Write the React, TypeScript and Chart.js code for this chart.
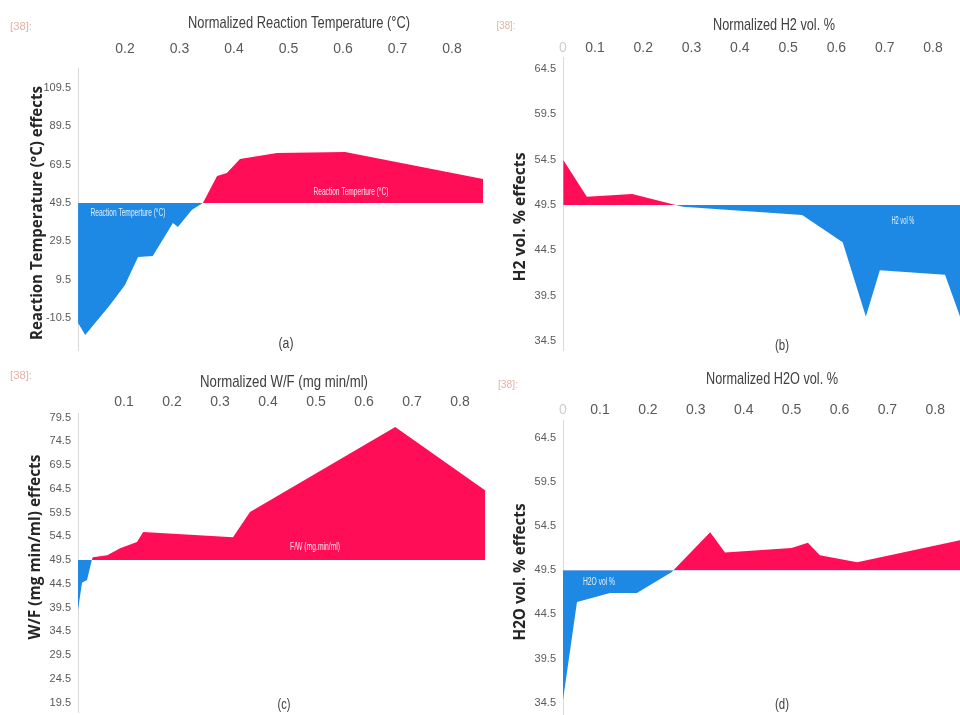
import React, { useEffect, useRef } from "react";
import { Chart, registerables } from "chart.js";

Chart.register(...registerables);

// ---------------- data ----------------
const BASE = 49.5;

// (a) Reaction Temperature
const tempX = [0.114, 0.127, 0.1725, 0.2, 0.224, 0.251, 0.288, 0.297, 0.323, 0.343, 0.369, 0.387, 0.411, 0.479, 0.604, 0.857];
const tempEffect = [-13, -19.3, -3.6, 6.8, 21.4, 21.9, 39.1, 37, 45.9, 49.5, 63.6, 65.1, 72.4, 75.5, 76, 62];
const tempXTicks = [0.2, 0.3, 0.4, 0.5, 0.6, 0.7, 0.8];
const tempYTicks = [109.5, 89.5, 69.5, 49.5, 29.5, 9.5, -10.5];

// (b) H2 vol. %
const h2X = [0.034, 0.083, 0.177, 0.282, 0.529, 0.613, 0.661, 0.69, 0.825, 0.856];
const h2Effect = [54.5, 50.4, 50.7, 49.3, 48.4, 45.4, 37.2, 42.3, 41.8, 37.2];
const h2XTicks = [0.1, 0.2, 0.3, 0.4, 0.5, 0.6, 0.7, 0.8];
const h2YTicks = [64.5, 59.5, 54.5, 49.5, 44.5, 39.5, 34.5];

// (c) W/F
const wfX = [0.0042, 0.0125, 0.023, 0.033, 0.035, 0.065, 0.092, 0.127, 0.14, 0.327, 0.3625, 0.665, 0.852];
const wfEffect = [39.0, 44.7, 45.3, 49.5, 50.1, 50.5, 52.0, 53.3, 55.4, 54.3, 59.6, 77.5, 64.2];
const wfXTicks = [0.1, 0.2, 0.3, 0.4, 0.5, 0.6, 0.7, 0.8];
const wfYTicks = [79.5, 74.5, 69.5, 64.5, 59.5, 54.5, 49.5, 44.5, 39.5, 34.5, 29.5, 24.5, 19.5];

// (d) H2O vol. %
const h2oX = [0.0228, 0.052, 0.121, 0.177, 0.25, 0.33, 0.361, 0.5, 0.534, 0.559, 0.637, 0.852];
const h2oEffect = [34.8, 45.9, 46.9, 46.9, 49.3, 53.8, 51.5, 52.0, 52.6, 51.2, 50.4, 52.9];
const h2oXTicks = [0.1, 0.2, 0.3, 0.4, 0.5, 0.6, 0.7, 0.8];
const h2oYTicks = [64.5, 59.5, 54.5, 49.5, 44.5, 39.5, 34.5];

// ---------------- styles ----------------
const RED = "#ff0d57";
const BLUE = "#1e88e5";
const TICK_FONT = "'Liberation Sans Narrow', 'Liberation Sans', sans-serif";

type Label = { x: number; y: number; text: string; w: number };
type PanelCfg = {
  xs: number[];
  ys: number[];
  xTicks: number[];
  yTicks: number[];
  zeroLabel: boolean;
  xMin: number;
  xMax: number;
  yMin: number;
  yMax: number;
  box: { x: number; y: number; w: number; h: number };
  area: { l: number; t: number; r: number; b: number };
  xPad: number;
  title: string;
  titleAt: [number, number, number];
  refAt: [number, number, number];
  yTitle: string;
  yTitleAt: [number, number, number];
  caption: string;
  captionAt: [number, number, number];
  labels: Label[];
};

function fitText(
  ctx: CanvasRenderingContext2D,
  text: string,
  x: number,
  y: number,
  font: string,
  color: string,
  width: number,
  rot = 0
) {
  ctx.save();
  ctx.font = font;
  const w0 = ctx.measureText(text).width || 1;
  ctx.translate(x, y);
  if (rot) ctx.rotate(rot);
  ctx.scale(width / w0, 1);
  ctx.fillStyle = color;
  ctx.textAlign = "center";
  ctx.textBaseline = "middle";
  ctx.fillText(text, 0, 0);
  ctx.restore();
}

function makeTextPlugin(p: PanelCfg) {
  return {
    id: "panelText",
    afterDraw(chart: any) {
      const ctx: CanvasRenderingContext2D = chart.ctx;
      const sx = chart.scales.x;
      const sy = chart.scales.y;
      fitText(ctx, p.title, p.titleAt[0], p.titleAt[1], "17px 'Liberation Sans', sans-serif", "#404040", p.titleAt[2]);
      fitText(ctx, "[38]:", p.refAt[0], p.refAt[1], "10px 'Liberation Sans', sans-serif", "#e2b2a4", p.refAt[2]);
      fitText(ctx, p.yTitle, p.yTitleAt[0], p.yTitleAt[1], "bold 16px 'Open Sans', sans-serif", "#262626", p.yTitleAt[2], -Math.PI / 2);
      fitText(ctx, p.caption, p.captionAt[0], p.captionAt[1], "14px 'Liberation Sans', sans-serif", "#404040", p.captionAt[2]);
      for (const l of p.labels) {
        fitText(
          ctx,
          l.text,
          sx.getPixelForValue(l.x),
          sy.getPixelForValue(l.y),
          "10px 'Liberation Sans', sans-serif",
          "rgba(255,255,255,0.88)",
          l.w
        );
      }
    },
  };
}

const panels: PanelCfg[] = [
  {
    xs: tempX, ys: tempEffect, xTicks: tempXTicks, yTicks: tempYTicks, zeroLabel: false,
    xMin: 0.1138, xMax: 0.857, yMin: -27.1, yMax: 119.8,
    box: { x: 0, y: 0, w: 490, h: 357 },
    area: { l: 78, t: 68, r: 483, b: 350 },
    xPad: 10,
    title: "Normalized Reaction Temperature (°C)", titleAt: [299, 23, 222],
    refAt: [21, 27, 22],
    yTitle: "Reaction Temperature (°C) effects", yTitleAt: [37.5, 213, 254],
    caption: "(a)", captionAt: [286, 344, 15],
    labels: [
      { x: 0.2055, y: 44.3, text: "Reaction Temperture (°C)", w: 75 },
      { x: 0.6147, y: 55.2, text: "Reaction Temperture (°C)", w: 75 },
    ],
  },
  {
    xs: h2X, ys: h2Effect, xTicks: h2XTicks, yTicks: h2YTicks, zeroLabel: true,
    xMin: 0.0337, xMax: 0.856, yMin: 33.51, yMax: 65.82,
    box: { x: 490, y: 0, w: 470, h: 357 },
    area: { l: 73, t: 57, r: 470, b: 350 },
    xPad: 0,
    title: "Normalized H2 vol. %", titleAt: [284, 25, 122],
    refAt: [16, 26, 19],
    yTitle: "H2 vol. % effects", yTitleAt: [30, 217, 129],
    caption: "(b)", captionAt: [292, 346, 14],
    labels: [{ x: 0.7377, y: 47.7, text: "H2 vol %", w: 23 }],
  },
  {
    xs: wfX, ys: wfEffect, xTicks: wfXTicks, yTicks: wfYTicks, zeroLabel: false,
    xMin: 0.0042, xMax: 0.852, yMin: 17.5, yMax: 80.45,
    box: { x: 0, y: 357, w: 490, h: 358 },
    area: { l: 78, t: 56, r: 485, b: 355 },
    xPad: 2,
    title: "Normalized W/F (mg min/ml)", titleAt: [284, 25, 168],
    refAt: [21, 19, 22],
    yTitle: "W/F (mg min/ml) effects", yTitleAt: [35, 190, 185],
    caption: "(c)", captionAt: [284, 348, 13],
    labels: [{ x: 0.498, y: 52.2, text: "F/W (mg.min/ml)", w: 50 }],
  },
  {
    xs: h2oX, ys: h2oEffect, xTicks: h2oXTicks, yTicks: h2oYTicks, zeroLabel: true,
    xMin: 0.0228, xMax: 0.8516, yMin: 33.1, yMax: 66.5,
    box: { x: 490, y: 357, w: 470, h: 358 },
    area: { l: 73, t: 63, r: 470, b: 358 },
    xPad: 1,
    title: "Normalized H2O vol. %", titleAt: [282, 22, 132],
    refAt: [18, 28, 20],
    yTitle: "H2O vol. % effects", yTitleAt: [30, 215, 137],
    caption: "(d)", captionAt: [292, 348, 14],
    labels: [{ x: 0.098, y: 48.1, text: "H2O vol %", w: 32 }],
  },
];

function Panel({ cfg }: { cfg: PanelCfg }) {
  const ref = useRef<HTMLCanvasElement>(null);
  useEffect(() => {
    const canvas = ref.current!;
    const pts = cfg.xs.map((x, i) => ({ x, y: cfg.ys[i] }));
    const xTickVals = cfg.zeroLabel ? [cfg.xMin, ...cfg.xTicks] : cfg.xTicks;
    const chart = new Chart(canvas, {
      type: "line",
      data: {
        datasets: [
          {
            data: pts,
            fill: { target: { value: BASE }, above: RED, below: BLUE },
            borderWidth: 0,
            borderColor: "rgba(0,0,0,0)",
            backgroundColor: RED,
            pointRadius: 0,
            tension: 0,
          } as any,
        ],
      },
      options: {
        animation: false,
        responsive: false,
        events: [],
        layout: {
          padding: {
            left: 0,
            top: 0,
            right: cfg.box.w - cfg.area.r,
            bottom: cfg.box.h - cfg.area.b,
          },
        },
        plugins: { legend: { display: false }, tooltip: { enabled: false } },
        scales: {
          x: {
            type: "linear",
            position: "top",
            min: cfg.xMin,
            max: cfg.xMax,
            grid: { display: false, drawTicks: false },
            border: { display: false },
            ticks: {
              autoSkip: false,
              maxRotation: 0,
              padding: cfg.xPad,
              font: { family: TICK_FONT, size: 14 },
              color: (c: any) => (cfg.zeroLabel && c.tick && c.tick.value === cfg.xMin ? "#cfcfcf" : "#595959"),
              callback: (v: any) => (cfg.zeroLabel && v === cfg.xMin ? "0" : String(v)),
            },
            afterBuildTicks: (s: any) => {
              s.ticks = xTickVals.map((v) => ({ value: v }));
            },
            afterFit: (s: any) => {
              s.height = cfg.area.t;
              s.paddingLeft = 0;
              s.paddingRight = 0;
            },
          },
          y: {
            type: "linear",
            min: cfg.yMin,
            max: cfg.yMax,
            grid: { display: false, drawTicks: false },
            border: { display: true, color: "#d9d9d9", width: 1 },
            ticks: {
              padding: 7,
              font: { family: TICK_FONT, size: 11 },
              color: "#595959",
              callback: (v: any) => String(v),
            },
            afterBuildTicks: (s: any) => {
              s.ticks = cfg.yTicks.map((v) => ({ value: v }));
            },
            afterFit: (s: any) => {
              s.width = cfg.area.l;
              s.paddingTop = 0;
              s.paddingBottom = 0;
            },
          },
        },
      } as any,
      plugins: [makeTextPlugin(cfg)],
    });
    return () => chart.destroy();
  }, [cfg]);
  return (
    <canvas
      ref={ref}
      width={cfg.box.w}
      height={cfg.box.h}
      style={{ position: "absolute", left: cfg.box.x, top: cfg.box.y, width: cfg.box.w, height: cfg.box.h }}
    />
  );
}

export default function App() {
  return (
    <div
      style={{
        position: "absolute",
        left: 0,
        top: 0,
        width: 960,
        height: 715,
        background: "#ffffff",
        overflow: "hidden",
      }}
    >
      {panels.map((p, i) => (
        <Panel key={i} cfg={p} />
      ))}
    </div>
  );
}
